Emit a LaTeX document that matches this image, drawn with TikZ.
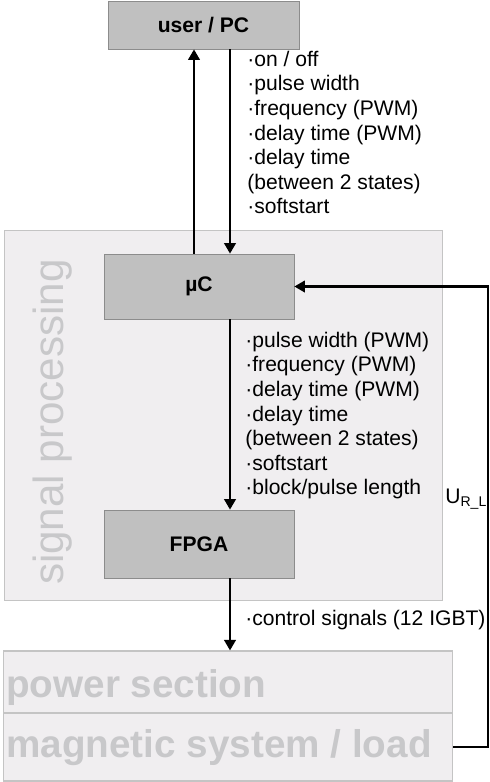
\documentclass[tikz,border=0pt]{standalone}
\usepackage{fontspec}
\setmainfont{Liberation Sans}
\usetikzlibrary{arrows.meta}

\definecolor{boxgray}{HTML}{C0C0C0}
\definecolor{boxline}{HTML}{8C8C8C}
\definecolor{panelfill}{HTML}{F0EEF0}
\definecolor{panelline}{HTML}{C4C4C4}
\definecolor{paneltext}{HTML}{C8C8CA}

\begin{document}
\begin{tikzpicture}[x=0.02cm, y=-0.02cm,
    block/.style={draw=boxline, fill=boxgray, minimum width=3.8cm, font=\fontsize{12}{14}\selectfont\bfseries},
    panel/.style={draw=panelline, fill=panelfill, inner sep=0, line width=0.6pt},
    paneltext/.style={text=paneltext, inner sep=0},
    signals/.style={font=\fontsize{12}{14}\selectfont, align=left, inner sep=0, anchor=north west},
    arr/.style={line width=1.4pt, -{Triangle[length=6pt, width=6.5pt]}}
]
    \useasboundingbox (0,0) rectangle (490,782);

    % Background panels
    \node[panel, minimum width=8.78cm, minimum height=7.42cm] (sigbox) at (223.5, 415.5) {};
    \node[panel, minimum width=9cm, minimum height=1.24cm] (power) at (228, 682) {};
    \node[panel, minimum width=9cm, minimum height=1.36cm] (load) at (228, 747) {};

    % Panel titles
    \node[paneltext, rotate=90, font=\fontsize{24}{28}\selectfont] (sigtitle) at (53, 422) {signal processing};
    \node[paneltext, anchor=base west, font=\fontsize{22}{26}\selectfont\bfseries] (powertitle) at (6, 697) {power section};
    \node[paneltext, anchor=base west, font=\fontsize{22}{26}\selectfont\bfseries] (loadtitle) at (6, 757) {magnetic system / load};

    % Blocks
    \node[block, minimum width=3.82cm, minimum height=0.96cm] (pc) at (203.5, 25) {user / PC};
    \node[block, minimum height=1.3cm] (uc) at (199, 286.5) {µC};
    \node[block, minimum height=1.36cm] (fpga) at (199, 544) {FPGA};

    % Arrow columns
    \coordinate (up) at (194, 0);
    \coordinate (down) at (230, 0);
    \coordinate (back) at (488, 0);

    % Connections
    \draw[arr] (uc.north -| up) -- (pc.south -| up);
    \draw[arr] (pc.south -| down) -- (uc.north -| down);
    \draw[arr] (uc.south -| down) -- (fpga.north -| down);
    \draw[arr] (fpga.south -| down) -- (power.north -| down);
    \draw[arr] (load.east) -- (load.east -| back) -- (back |- uc.east) -- (uc.east);

    % Signal lists
    \node[signals] (pcsig) at (247, 48.7) {\strut·on / off\\·pulse width\\·frequency (PWM)\\·delay time (PWM)\\·delay time\\(between 2 states)\\·softstart};
    \node[signals] (ucsig) at (245, 329.7) {\strut·pulse width (PWM)\\·frequency (PWM)\\·delay time (PWM)\\·delay time\\(between 2 states)\\·softstart\\·block/pulse length};
    \node[signals] (fpgasig) at (245, 607.7) {\strut·control signals (12 IGBT)};
    \node[anchor=base west, inner sep=0, font=\fontsize{12}{14}\selectfont] (url) at (445, 503) {U\textsubscript{R\_L}};
\end{tikzpicture}
\end{document}
